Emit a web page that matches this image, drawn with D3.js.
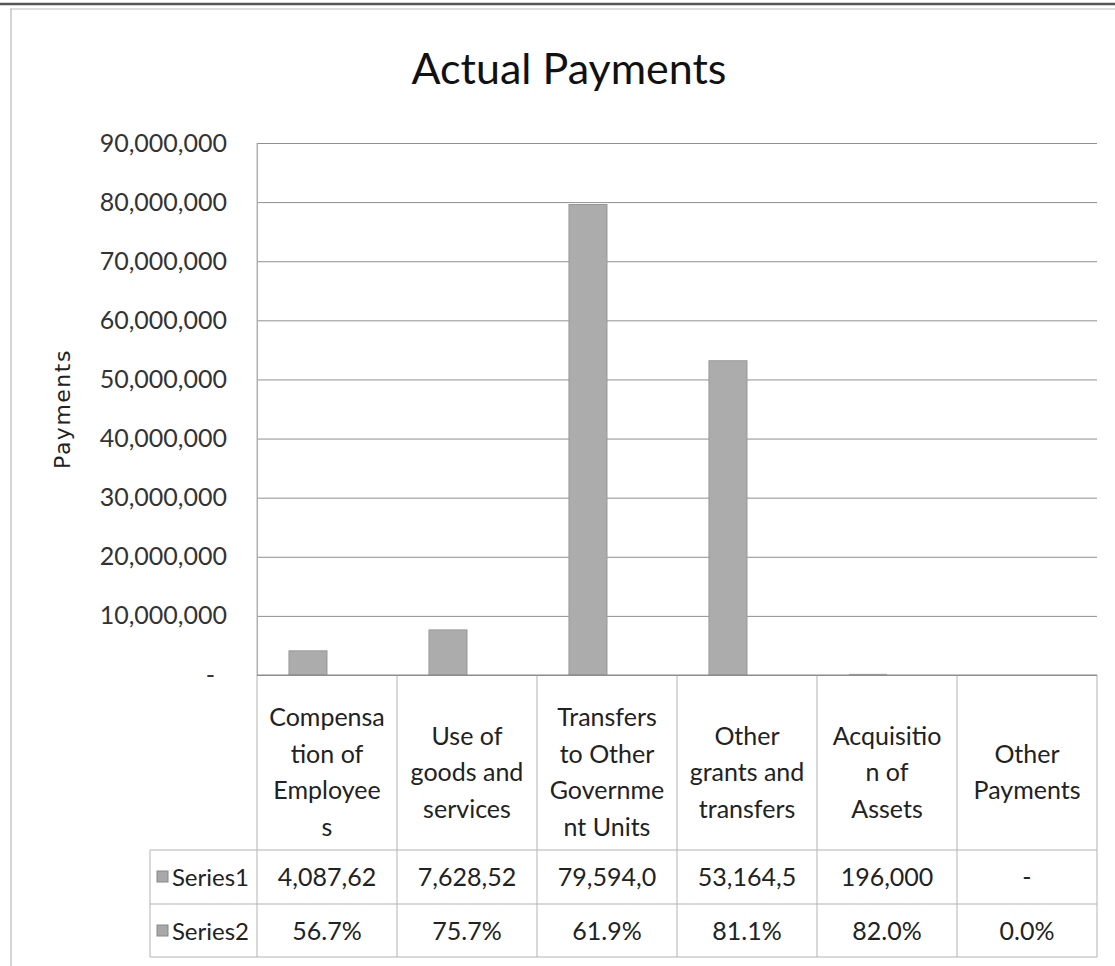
<!DOCTYPE html>
<html>
<head>
<meta charset="utf-8">
<script src="https://cdnjs.cloudflare.com/ajax/libs/d3/7.8.5/d3.min.js"></script>
<style>
body{margin:0;background:#fff}
svg{display:block}
</style>
</head>
<body>
<svg width="1115" height="966"></svg>
<script>
// ===== DATA =====
const categoryLines = [
  ["Compensa","tion of","Employee","s"],
  ["Use of","goods and","services"],
  ["Transfers","to Other","Governme","nt Units"],
  ["Other","grants and","transfers"],
  ["Acquisitio","n of","Assets"],
  ["Other","Payments"]
]
const series1 = [4087620, 7628520, 79594000, 53164500, 196000, 0]
const series2 = [0.567, 0.757, 0.619, 0.811, 0.820, 0.0]
const seriesNames = ["Series1","Series2"]
const yMax = 90000000
const chartTitle = "Actual Payments"
const yTitle = "Payments"

const svg = d3.select("svg")
const font = "Lato, 'Open Sans', sans-serif"

svg.append("rect").attr("width",1115).attr("height",966).attr("fill","#fff")

// scanned page frame
svg.append("line").attr("x1",0).attr("x2",1115).attr("y1",4).attr("y2",4)
.attr("stroke","#555").attr("stroke-width",2.5)
svg.append("line").attr("x1",10).attr("x2",1115).attr("y1",9).attr("y2",9)
.attr("stroke","#bbb").attr("stroke-width",1)
svg.append("line").attr("x1",11).attr("x2",11).attr("y1",9).attr("y2",966)
.attr("stroke","#aaa").attr("stroke-width",1)

// ===== SCALES =====
const plotL = 257, plotR = 1097, plotT = 143, plotB = 675

const x0 = d3.scaleBand()
.domain(d3.range(categoryLines.length))
.range([plotL,plotR])
.padding(0)

const x1 = d3.scaleBand()
.domain(seriesNames)
.range([0,x0.bandwidth()])
.paddingInner(0)
.paddingOuter(0.84)

const y = d3.scaleLinear()
.domain([0,yMax])
.range([plotB,plotT])

// TITLE
svg.append("text")
.attr("x",569).attr("y",84)
.attr("text-anchor","middle")
.attr("font-family",font)
.attr("font-size",43)
.attr("fill","#111")
.text(chartTitle)

svg.append("text")
.attr("transform","translate(70,409) rotate(-90)")
.attr("text-anchor","middle")
.attr("font-family","'DejaVu Sans', sans-serif")
.attr("font-size",22)
.attr("letter-spacing",1.5)
.attr("fill","#222")
.text(yTitle)

// GRID
svg.append("g")
.attr("transform",`translate(${plotL},0)`)
.call(d3.axisLeft(y).ticks(9).tickSize(-(plotR-plotL)).tickFormat(""))
.call(g=>g.select(".domain").remove())
.selectAll("line")
.attr("stroke","#8f8f8f")
.attr("stroke-width",1)

// Y AXIS
const yAxis = svg.append("g")
.attr("transform",`translate(${plotL},0)`)
.call(d3.axisLeft(y).ticks(9).tickSize(0).tickPadding(30)
  .tickFormat(d=>d===0 ? "-" : d3.format(",")(d)))
yAxis.select(".domain").attr("stroke","#aaa")
yAxis.selectAll("text")
.attr("font-family",font)
.attr("font-size",25)
.attr("fill","#333")
.attr("dx",d=>d===0 ? -12 : 0)

// BARS
const rows = [series1, series2]
const g = svg.selectAll(".cat")
.data(d3.range(categoryLines.length))
.enter()
.append("g")
.attr("transform",i=>`translate(${x0(i)},0)`)

g.selectAll("rect")
.data(i=>seriesNames.map((s,k)=>({key:s,value:rows[k][i]})))
.enter()
.append("rect")
.attr("x",d=>x1(d.key))
.attr("width",x1.bandwidth())
.attr("y",d=>y(d.value))
.attr("height",d=>plotB-y(d.value))
.attr("fill","#acacac")
.attr("stroke",d=>d.value>1000000 ? "#999" : "none")

// ===== DATA TABLE =====
const rowTop = [850, 904]
const rowH = 54
const tableBottom = 957
const tableLeft = 150
const lineCol = "#b3b3b3"

// column lines
svg.selectAll(".col")
.data(d3.range(categoryLines.length+1))
.enter()
.append("line")
.attr("x1",i=>i<categoryLines.length ? x0(i) : plotR)
.attr("x2",i=>i<categoryLines.length ? x0(i) : plotR)
.attr("y1",i=>i===0 ? plotT : plotB)
.attr("y2",tableBottom)
.attr("stroke",lineCol)

// row lines
svg.selectAll(".rowline")
.data([850,904,957])
.enter()
.append("line")
.attr("x1",tableLeft).attr("x2",plotR)
.attr("y1",d=>d).attr("y2",d=>d)
.attr("stroke",lineCol)

svg.append("line")
.attr("x1",plotL).attr("x2",plotR)
.attr("y1",plotB).attr("y2",plotB)
.attr("stroke","#8a8a8a")

svg.append("line")
.attr("x1",tableLeft).attr("x2",tableLeft)
.attr("y1",850).attr("y2",tableBottom)
.attr("stroke",lineCol)

// category labels
const lh = 36.5
svg.selectAll(".catlabel")
.data(categoryLines)
.enter()
.append("text")
.attr("text-anchor","middle")
.attr("font-family",font)
.attr("font-size",25)
.attr("fill","#222")
.each(function(lines,i){
  const t = d3.select(this)
  const cx = x0(i)+x0.bandwidth()/2
  const y0 = 772 - (lines.length-1)*lh/2 + 9
  lines.forEach((ln,j)=>{
    t.append("tspan").attr("x",cx).attr("y",y0+j*lh).text(ln)
  })
})

// series rows
const fmt1 = v=>v===0 ? "-" : d3.format(",")(v).slice(0,8)
const fmt2 = d3.format(".1%")
const fmts = [fmt1, fmt2]

rows.forEach((vals,k)=>{
  const cy = rowTop[k]+rowH/2
  svg.append("rect")
  .attr("x",157).attr("y",cy-6).attr("width",11).attr("height",11)
  .attr("fill","#a8a8a8").attr("stroke","#888")
  svg.append("text")
  .attr("x",249).attr("y",cy+9)
  .attr("text-anchor","end")
  .attr("font-family",font).attr("font-size",24).attr("fill","#222")
  .text(seriesNames[k])
  svg.selectAll(null)
  .data(vals)
  .enter()
  .append("text")
  .attr("x",(d,i)=>x0(i)+x0.bandwidth()/2)
  .attr("y",cy+9)
  .attr("text-anchor","middle")
  .attr("font-family",font).attr("font-size",25).attr("fill","#222")
  .text(d=>fmts[k](d))
})
</script>
</body>
</html>
